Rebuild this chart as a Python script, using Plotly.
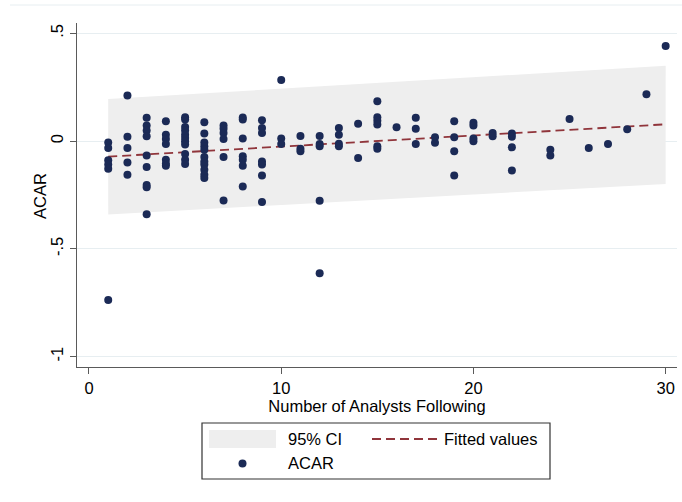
import plotly.graph_objects as go

# ---- data ----
analysts = [1, 1, 1, 1, 1, 1,
            2, 2, 2, 2, 2,
            3, 3, 3, 3, 3, 3, 3, 3, 3,
            4, 4, 4, 4, 4, 4, 4,
            5, 5, 5, 5, 5, 5, 5, 5, 5, 5, 5,
            6, 6, 6, 6, 6, 6, 6, 6, 6, 6, 6,
            7, 7, 7, 7, 7, 7,
            8, 8, 8, 8, 8, 8, 8,
            9, 9, 9, 9, 9, 9, 9,
            10, 10, 10,
            11, 11, 11,
            12, 12, 12, 12, 12,
            13, 13, 13, 13,
            14, 14,
            15, 15, 15, 15, 15, 15,
            16,
            17, 17, 17,
            18, 18,
            19, 19, 19, 19,
            20, 20, 20, 20,
            21, 21,
            22, 22, 22, 22,
            24, 24,
            25, 26, 27, 28, 29, 30]
acar = [-0.006, -0.032, -0.089, -0.109, -0.128, -0.737,
        0.212, 0.020, -0.032, -0.099, -0.156,
        0.108, 0.072, 0.049, 0.022, -0.067, -0.120, -0.204, -0.214, -0.339,
        0.092, 0.030, 0.010, -0.013, -0.086, -0.105, -0.114,
        0.111, 0.100, 0.066, 0.049, 0.030, 0.015, -0.001, -0.016, -0.060, -0.086, -0.106,
        0.088, 0.035, -0.006, -0.024, -0.040, -0.074, -0.094, -0.109, -0.133, -0.156, -0.171,
        0.072, 0.057, 0.038, 0.010, -0.074, -0.275,
        0.110, 0.100, 0.012, -0.070, -0.086, -0.114, -0.210,
        0.097, 0.061, 0.038, -0.094, -0.109, -0.159, -0.283,
        0.283, 0.012, -0.013,
        0.024, -0.036, -0.047,
        0.024, -0.013, -0.024, -0.277, -0.613,
        0.061, 0.030, -0.012, -0.024,
        0.080, -0.078,
        0.185, 0.111, 0.095, 0.077, -0.024, -0.035,
        0.064,
        0.108, 0.057, -0.013,
        0.018, -0.008,
        0.092, 0.018, -0.047, -0.159,
        0.085, 0.072, 0.012, -0.001,
        0.038, 0.022,
        0.035, 0.020, -0.029, -0.136,
        -0.040, -0.067,
        0.103, -0.032, -0.013, 0.055, 0.218, 0.441]

fit_x = [1, 30]
fit_y = [-0.072, 0.078]
ci_lo = [-0.340, -0.199]
ci_hi = [0.195, 0.350]

x_ticks = [0, 10, 20, 30]
y_ticks = [-1, -0.5, 0, 0.5]
y_ticklabels = ["-1", "-.5", "0", ".5"]

x_title = "Number of Analysts Following"
y_title = "ACAR"
legend_labels = ["95% CI", "Fitted values", "ACAR"]

# ---- styles ----
FONT = "Arial, Liberation Sans, sans-serif"
FS = 16.5
NAVY = "#1B2A56"
MAROON = "#90353B"
CI_GREY = "#EEEEEE"
GRID = "#E7EEF1"
AXIS = "#5A5A5A"

fig = go.Figure()

# CI band
fig.add_trace(go.Scatter(x=fit_x, y=ci_lo, mode="lines", line=dict(width=0),
                         hoverinfo="skip", showlegend=False))
fig.add_trace(go.Scatter(x=fit_x, y=ci_hi, mode="lines", line=dict(width=0),
                         fill="tonexty", fillcolor=CI_GREY, hoverinfo="skip",
                         showlegend=False))
# fitted line
fig.add_trace(go.Scatter(x=fit_x, y=fit_y, mode="lines",
                         line=dict(color=MAROON, width=1.8, dash="9px,5px"),
                         showlegend=False))
# points
fig.add_trace(go.Scatter(x=analysts, y=acar, mode="markers",
                         marker=dict(color=NAVY, size=8, line=dict(width=0)),
                         cliponaxis=False, showlegend=False))

# plot-area pixel geometry helpers (for legend / title placement)
L, R, T, B = 77, 677, 23, 367
W, H = R - L, B - T


def px(x):
    return (x - L) / W


def py(y):
    return (B - y) / H


shapes = [
    # faint top border line
    dict(type="line", xref="paper", yref="paper", x0=px(10), x1=px(682),
         y0=py(5), y1=py(5), line=dict(color=GRID, width=1)),
    # legend box
    dict(type="rect", xref="paper", yref="paper", x0=px(202), x1=px(550),
         y0=py(479), y1=py(423), line=dict(color="#333333", width=1.2),
         fillcolor="white"),
    # grey swatch
    dict(type="rect", xref="paper", yref="paper", x0=px(209), x1=px(276),
         y0=py(448), y1=py(430), line=dict(width=0), fillcolor=CI_GREY),
    # dashed swatch
    dict(type="line", xref="paper", yref="paper", x0=px(372), x1=px(438),
         y0=py(439), y1=py(439), line=dict(color=MAROON, width=1.8, dash="9px,5px")),
    # marker swatch
    dict(type="circle", xref="paper", yref="paper", x0=px(238.5), x1=px(246.5),
         y0=py(467.5), y1=py(459.5), line=dict(width=0), fillcolor=NAVY),
]

txt_font = dict(family=FONT, size=FS, color="black")
annotations = [
    dict(text=legend_labels[0], xref="paper", yref="paper", x=px(286), y=py(439),
         xanchor="left", yanchor="middle", showarrow=False, font=txt_font),
    dict(text=legend_labels[1], xref="paper", yref="paper", x=px(442), y=py(439),
         xanchor="left", yanchor="middle", showarrow=False, font=txt_font),
    dict(text=legend_labels[2], xref="paper", yref="paper", x=px(286), y=py(463),
         xanchor="left", yanchor="middle", showarrow=False, font=txt_font),
    dict(text=y_title, xref="paper", yref="paper", x=px(40), y=py(196),
         xanchor="center", yanchor="middle", textangle=-90, showarrow=False,
         font=txt_font),
]

fig.update_layout(
    width=682, height=502,
    margin=dict(l=L, r=682 - R, t=T, b=502 - B, pad=0, autoexpand=False),
    paper_bgcolor="white", plot_bgcolor="white",
    font=txt_font,
    showlegend=False,
    shapes=shapes,
    annotations=annotations,
    xaxis=dict(
        range=[-0.624, 30.59], tickmode="array", tickvals=x_ticks,
        automargin=False,
        showgrid=False, zeroline=False,
        showline=True, linecolor=AXIS, linewidth=1.2,
        ticks="outside", ticklen=6, tickcolor=AXIS, tickwidth=1.2,
        tickfont=txt_font,
        title=dict(text=x_title, standoff=2, font=txt_font),
    ),
    yaxis=dict(
        range=[-1.048, 0.548], tickmode="array", tickvals=y_ticks,
        ticktext=y_ticklabels, tickangle=-90,
        automargin=False,
        showgrid=True, gridcolor=GRID, gridwidth=1, zeroline=False,
        showline=True, linecolor=AXIS, linewidth=1.2,
        ticks="outside", ticklen=6, tickcolor=AXIS, tickwidth=1.2,
        tickfont=txt_font,
    ),
)

fig.write_html(
    "out.html",
    config={"displayModeBar": False},
    post_script="document.body.style.margin='0';document.body.style.overflow='hidden';",
)
